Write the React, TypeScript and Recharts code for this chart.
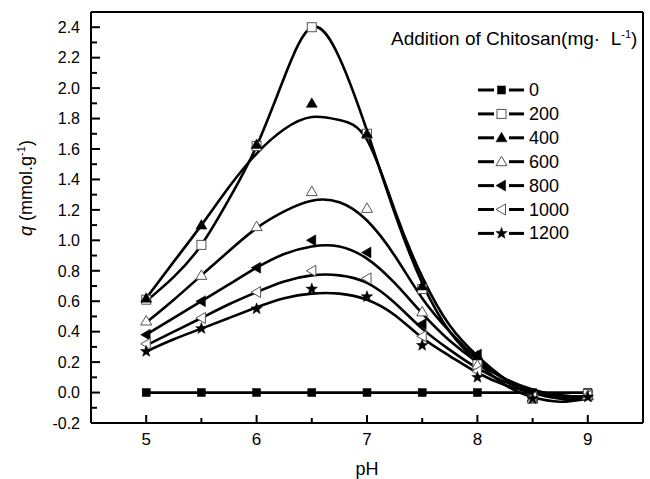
import React from "react";
import {
  ComposedChart,
  Line,
  Scatter,
  XAxis,
  YAxis,
  ReferenceLine,
  Legend,
  Label,
} from "recharts";

// measured points
const phPoints = [5, 5.5, 6, 6.5, 7, 7.5, 8, 8.5, 9];
const q0 = [0, 0, 0, 0, 0, 0, 0, 0, 0];
const q200 = [0.61, 0.97, 1.62, 2.4, 1.7, 0.68, 0.2, -0.04, -0.01];
const q400 = [0.62, 1.1, 1.63, 1.9, 1.7, 0.7, 0.24, -0.03, -0.02];
const q600 = [0.47, 0.77, 1.09, 1.32, 1.21, 0.53, 0.18, -0.04, -0.02];
const q800 = [0.38, 0.6, 0.82, 1.0, 0.92, 0.45, 0.25, -0.02, -0.02];
const q1000 = [0.32, 0.49, 0.66, 0.8, 0.75, 0.37, 0.14, -0.03, -0.02];
const q1200 = [0.27, 0.42, 0.55, 0.68, 0.63, 0.31, 0.1, -0.04, -0.03];

// fitted curves
const fitPh = [5, 5.25, 5.5, 5.75, 6, 6.25, 6.5, 6.75, 7, 7.25, 7.5, 7.75, 8, 8.25, 8.5, 8.75, 9];
const fit200 = [0.6, 0.76, 0.97, 1.27, 1.62, 2.07, 2.4, 2.2, 1.72, 1.18, 0.72, 0.4, 0.2, 0.05, -0.03, -0.06, -0.04];
const fit400 = [0.62, 0.86, 1.1, 1.35, 1.57, 1.73, 1.81, 1.79, 1.66, 1.2, 0.76, 0.44, 0.24, 0.09, 0.0, -0.04, -0.04];
const fit600 = [0.46, 0.61, 0.77, 0.93, 1.08, 1.19, 1.26, 1.25, 1.13, 0.9, 0.62, 0.4, 0.22, 0.09, 0.01, -0.03, -0.03];
const fit800 = [0.38, 0.49, 0.6, 0.71, 0.82, 0.91, 0.96, 0.96, 0.88, 0.72, 0.52, 0.34, 0.2, 0.09, 0.02, -0.02, -0.03];
const fit1000 = [0.31, 0.4, 0.49, 0.58, 0.66, 0.73, 0.77, 0.77, 0.72, 0.59, 0.42, 0.28, 0.16, 0.07, 0.01, -0.02, -0.03];
const fit1200 = [0.27, 0.35, 0.42, 0.49, 0.56, 0.62, 0.65, 0.65, 0.61, 0.51, 0.36, 0.24, 0.13, 0.05, 0.0, -0.02, -0.03];

const xTicks = [5, 5.5, 6, 6.5, 7, 7.5, 8, 8.5, 9];
const yTicks = [
  -0.2, -0.1, 0, 0.1, 0.2, 0.3, 0.4, 0.5, 0.6, 0.7, 0.8, 0.9, 1.0, 1.1, 1.2,
  1.3, 1.4, 1.5, 1.6, 1.7, 1.8, 1.9, 2.0, 2.1, 2.2, 2.3, 2.4,
];

const seriesNames = ["0", "200", "400", "600", "800", "1000", "1200"];
const markerKinds = ["square", "squareOpen", "tri", "triOpen", "left", "leftOpen", "star"];

const font = "'Liberation Sans', Arial, sans-serif";

const toPts = (xs: number[], ys: number[]) => xs.map((x, i) => ({ x, y: ys[i] }));

const Marker = ({ kind, cx, cy }: { kind: string; cx: number; cy: number }) => {
  const open = { fill: "#fff", stroke: "#555", strokeWidth: 1 };
  const solid = { fill: "#000", stroke: "#000", strokeWidth: 0.5 };
  switch (kind) {
    case "square":
      return <rect x={cx - 4} y={cy - 4} width={8} height={8} {...solid} />;
    case "squareOpen":
      return <rect x={cx - 4.5} y={cy - 4.5} width={9} height={9} {...open} />;
    case "tri":
    case "triOpen":
      return (
        <polygon
          points={`${cx},${cy - 5.5} ${cx - 5.5},${cy + 4} ${cx + 5.5},${cy + 4}`}
          {...(kind === "tri" ? solid : open)}
        />
      );
    case "left":
    case "leftOpen":
      return (
        <polygon
          points={`${cx - 5.5},${cy} ${cx + 4},${cy - 5.5} ${cx + 4},${cy + 5.5}`}
          {...(kind === "left" ? solid : open)}
        />
      );
    default: {
      const pts: string[] = [];
      for (let i = 0; i < 10; i++) {
        const r = i % 2 === 0 ? 6 : 2.5;
        const a = -Math.PI / 2 + (i * Math.PI) / 5;
        pts.push(`${cx + r * Math.cos(a)},${cy + r * Math.sin(a)}`);
      }
      return <polygon points={pts.join(" ")} {...solid} />;
    }
  }
};

const XTick = (props: any) => {
  const { x, y, payload } = props;
  const v = payload.value as number;
  const major = Number.isInteger(v);
  return (
    <g>
      <line x1={x} x2={x} y1={y} y2={y - (major ? 8 : 5)} stroke="#000" strokeWidth={2} />
      {major && (
        <text x={x} y={y + 22} textAnchor="middle" fontSize={17} fontFamily={font} fill="#000">
          {v}
        </text>
      )}
    </g>
  );
};

const YTick = (props: any) => {
  const { x, y, payload } = props;
  const v = payload.value as number;
  const major = Math.round(v * 10) % 2 === 0;
  return (
    <g>
      <line x1={x} x2={x + (major ? 9 : 6)} y1={y} y2={y} stroke="#000" strokeWidth={2} />
      {major && (
        <text x={x - 11} y={y} dy="0.36em" textAnchor="end" fontSize={16} fontFamily={font} fill="#000">
          {v.toFixed(1)}
        </text>
      )}
    </g>
  );
};

const LegendBox = () => {
  const rowY = (i: number) => 90 + i * 23.9;
  return (
    <svg width={650} height={260} style={{ overflow: "visible" }}>
      <text x={391} y={45} fontSize={19} fontFamily={font} fill="#000" style={{ whiteSpace: "pre" }}>
        {"Addition of Chitosan(mg·  L"}
        <tspan dy={-7} fontSize={11}>-1</tspan>
        <tspan dy={7}>)</tspan>
      </text>
      {seriesNames.map((name, i) => (
        <g key={name}>
          <line x1={478} x2={494} y1={rowY(i)} y2={rowY(i)} stroke="#000" strokeWidth={3} />
          <line x1={509} x2={524} y1={rowY(i)} y2={rowY(i)} stroke="#000" strokeWidth={3} />
          <Marker kind={markerKinds[i]} cx={501.5} cy={rowY(i)} />
          <text x={529} y={rowY(i) + 6} fontSize={18} fontFamily={font} fill="#000">
            {name}
          </text>
        </g>
      ))}
    </svg>
  );
};

const markerSeries = [q0, q200, q400, q600, q800, q1000, q1200];
const fitSeries = [fit200, fit400, fit600, fit800, fit1000, fit1200];

export default function App() {
  return (
    <div style={{ position: "absolute", left: 0, top: 0 }}>
      <ComposedChart
        width={650}
        height={479}
        margin={{ top: 12, right: 7, left: 0, bottom: 0 }}
        style={{ fontFamily: font }}
      >
        <XAxis
          type="number"
          dataKey="x"
          domain={[4.5, 9.5]}
          ticks={xTicks}
          interval={0}
          height={56}
          tickSize={0}
          tickMargin={0}
          tick={<XTick />}
          axisLine={{ stroke: "#000", strokeWidth: 2 }}
          allowDataOverflow
        >
          <Label
            content={() => (
              <text x={367} y={475} textAnchor="middle" fontSize={18} fontFamily={font} fill="#000">
                pH
              </text>
            )}
          />
        </XAxis>
        <YAxis
          type="number"
          dataKey="y"
          domain={[-0.2, 2.5]}
          ticks={yTicks}
          interval={0}
          width={91}
          tickSize={0}
          tickMargin={0}
          tick={<YTick />}
          axisLine={{ stroke: "#000", strokeWidth: 2 }}
          allowDataOverflow
        >
          <Label
            content={() => (
              <text
                x={32}
                y={188}
                transform="rotate(-90 32 188)"
                textAnchor="middle"
                fontSize={18}
                fontFamily={font}
                fill="#000"
              >
                <tspan fontStyle="italic">q</tspan> (mmol.g
                <tspan dy={-7} fontSize={11}>-1</tspan>
                <tspan dy={7}>)</tspan>
              </text>
            )}
          />
        </YAxis>
        <ReferenceLine y={2.5} stroke="#000" strokeWidth={2} />
        <ReferenceLine x={9.5} stroke="#000" strokeWidth={2} />
        <Line
          data={toPts(phPoints, q0)}
          dataKey="y"
          type="linear"
          stroke="#000"
          strokeWidth={2.8}
          dot={false}
          isAnimationActive={false}
        />
        {fitSeries.map((s, i) => (
          <Line
            key={"fit" + i}
            data={toPts(fitPh, s)}
            dataKey="y"
            type="natural"
            stroke="#000"
            strokeWidth={2.6}
            dot={false}
            isAnimationActive={false}
          />
        ))}
        {markerSeries.map((s, i) => (
          <Scatter
            key={"pts" + i}
            data={toPts(phPoints, s)}
            dataKey="y"
            isAnimationActive={false}
            shape={(p: any) => <Marker kind={markerKinds[i]} cx={p.cx} cy={p.cy} />}
          />
        ))}
        <Legend
          layout="horizontal"
          verticalAlign="middle"
          align="center"
          wrapperStyle={{ position: "absolute", left: 0, top: 0, width: 650, height: 260 }}
          content={() => <LegendBox />}
        />
      </ComposedChart>
    </div>
  );
}
